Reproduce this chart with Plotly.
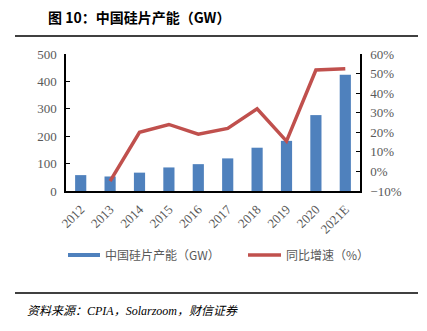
import plotly.graph_objects as go

years = ["2012", "2013", "2014", "2015", "2016", "2017", "2018", "2019", "2020", "2021E"]
capacity_gw = [58, 53, 67, 86, 98, 119, 158, 183, 277, 424]
growth_years = ["2013", "2014", "2015", "2016", "2017", "2018", "2019", "2020", "2021E"]
growth_pct = [-5, 20, 24, 19, 22, 32, 15.5, 51.8, 52.5]

W, H = 427, 331
L, R, T, B = 66, 360, 54, 191  # plot area in px
pw, ph = R - L, B - T

def px(x):
    return (x - L) / pw

def py(y):
    return (B - y) / ph

BLUE = "#4F81BD"
RED = "#C0504D"
GRAY = "#595959"
SERIF = "Liberation Serif, Times New Roman, serif"
CJK = "Noto Sans CJK SC"

fig = go.Figure()
fig.add_trace(go.Bar(x=years, y=capacity_gw, marker=dict(color=BLUE, line=dict(width=0)),
                     name="中国硅片产能（GW）", showlegend=False))
fig.add_trace(go.Scatter(x=growth_years, y=growth_pct, yaxis="y2", mode="lines",
                         line=dict(color=RED, width=3.5), name="同比增速（%）", showlegend=False))

fig.update_layout(
    width=W, height=H,
    margin=dict(l=L, r=W - R, t=T, b=H - B),
    plot_bgcolor="white", paper_bgcolor="white",
    bargap=0.62,
    xaxis=dict(type="category", tickangle=-45, showgrid=False, ticks="",
               showline=True, linecolor="#000", linewidth=1.5, ticklabelstandoff=4,
               tickfont=dict(family=SERIF, size=13, color=GRAY)),
    yaxis=dict(range=[0, 500], dtick=100, showgrid=False, zeroline=False,
               showline=True, linecolor="#000", linewidth=1.5,
               ticks="inside", ticklen=4, tickcolor="#000", ticklabelstandoff=5,
               tickfont=dict(family=SERIF, size=13, color=GRAY)),
    yaxis2=dict(range=[-10, 60], dtick=10, overlaying="y", side="right",
                showgrid=False, zeroline=False, ticksuffix="%",
                showline=True, linecolor="#000", linewidth=1.5,
                ticks="inside", ticklen=4, tickcolor="#000", ticklabelstandoff=6,
                tickfont=dict(family=SERIF, size=13, color=GRAY)),
    showlegend=False,
)

shapes = [
    dict(type="line", xref="paper", yref="paper", x0=px(15), x1=px(418), y0=py(36), y1=py(36),
         line=dict(color="#000", width=1.5)),
    dict(type="line", xref="paper", yref="paper", x0=px(15), x1=px(418), y0=py(293), y1=py(293),
         line=dict(color="#000", width=1.5)),
    dict(type="rect", xref="paper", yref="paper", x0=px(68), x1=px(100), y0=py(253), y1=py(257),
         fillcolor=BLUE, line=dict(width=0)),
    dict(type="line", xref="paper", yref="paper", x0=px(248), x1=px(281), y0=py(255), y1=py(255),
         line=dict(color=RED, width=3.5)),
]
fig.update_layout(shapes=shapes)

ann = [
    dict(text="<b>图 10：中国硅片产能（GW）</b>", x=px(46), y=py(17), xanchor="left", yanchor="middle",
         font=dict(family=CJK, size=14, color="#000")),
    dict(text="中国硅片产能（GW）", x=px(103), y=py(255), xanchor="left", yanchor="middle",
         font=dict(family=CJK, size=12, color=GRAY)),
    dict(text="同比增速（%）", x=px(284), y=py(255), xanchor="left", yanchor="middle",
         font=dict(family=CJK, size=12, color=GRAY)),
    dict(text="<i>资料来源：CPIA，Solarzoom，财信证券</i>", x=px(25), y=py(311), xanchor="left", yanchor="middle",
         font=dict(family=SERIF + ", " + CJK, size=12, color="#000")),
]
for a in ann:
    a.update(xref="paper", yref="paper", showarrow=False)
fig.update_layout(annotations=ann)

fig.write_html("out.html")
